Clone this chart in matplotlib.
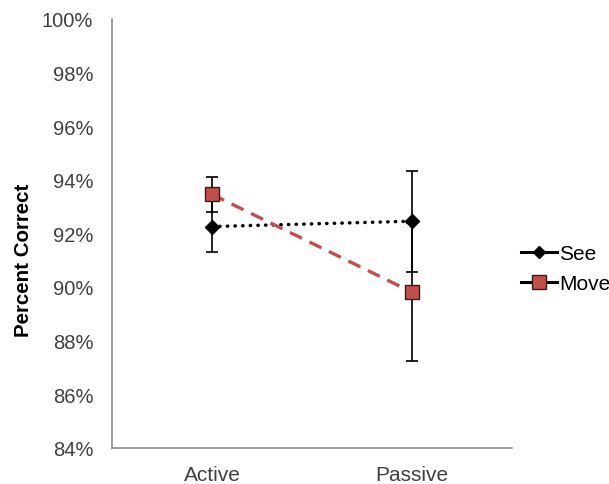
import matplotlib.pyplot as plt
from matplotlib.lines import Line2D

plt.rcParams['font.family'] = ['Liberation Sans', 'DejaVu Sans']

# data
conditions = ['Active', 'Passive']
see_vals = [92.25, 92.45]
see_err = [0.94, 1.89]
move_vals = [93.45, 89.8]
move_err = [0.65, 2.57]
yticks = [84, 86, 88, 90, 92, 94, 96, 98, 100]

red = '#C0504D'
grey_txt = '#404040'

fig = plt.figure(figsize=(6.09, 4.85), dpi=100)
ax = fig.add_axes([0.184, 0.075, 0.657, 0.884])

x = list(range(1, len(conditions) + 1))

# see
ax.errorbar(x, see_vals, yerr=see_err, fmt='none', ecolor='black', elinewidth=1.2, capsize=4, capthick=1.2, zorder=2)
ax.plot(x, see_vals, color='black', linestyle=(0, (0.1, 2.1)), linewidth=2.5, dash_capstyle='round',
        marker='D', markersize=7, markerfacecolor='black', markeredgecolor='black', zorder=3)

# move
ax.errorbar(x, move_vals, yerr=move_err, fmt='none', ecolor='black', elinewidth=1.2, capsize=4, capthick=1.2, zorder=2)
ax.plot(x, move_vals, color=red, linestyle=(0, (4, 2.5)), linewidth=2.4,
        marker='s', markersize=10, markerfacecolor=red, markeredgecolor='#3a1a1a', markeredgewidth=1.0, zorder=4)

ax.set_xlim(0.5, 2.5)
ax.set_ylim(84, 100)
ax.set_yticks(yticks)
ax.set_yticklabels(['%d%%' % v for v in yticks], fontsize=14.5, color=grey_txt)
ax.set_xticks(x)
ax.set_xticklabels(conditions, fontsize=15, color=grey_txt)
ax.tick_params(axis='x', length=0, pad=12.5)
ax.tick_params(axis='y', length=0, pad=13.5)

for s in ['top', 'right']:
    ax.spines[s].set_visible(False)
for s in ['left', 'bottom']:
    ax.spines[s].set_color('#8c8c8c')
    ax.spines[s].set_linewidth(1.2)

ax.set_ylabel('Percent Correct', fontsize=14.8, fontweight='bold')
ax.yaxis.set_label_coords(-0.198, 0.44)

handles = [
    Line2D([], [], color='black', linewidth=2.2, marker='D', markersize=6.5, markerfacecolor='black'),
    Line2D([], [], color='black', linewidth=2.2, marker='s', markersize=10, markerfacecolor=red,
           markeredgecolor='#3a1a1a'),
]
fig.legend(handles, ['See', 'Move'], loc='center left', bbox_to_anchor=(0.832, 0.444),
           frameon=False, fontsize=15, handlelength=1.7, handletextpad=0.1, labelspacing=0.55,
           borderpad=0.2)

fig.savefig('out.png', dpi=100)
